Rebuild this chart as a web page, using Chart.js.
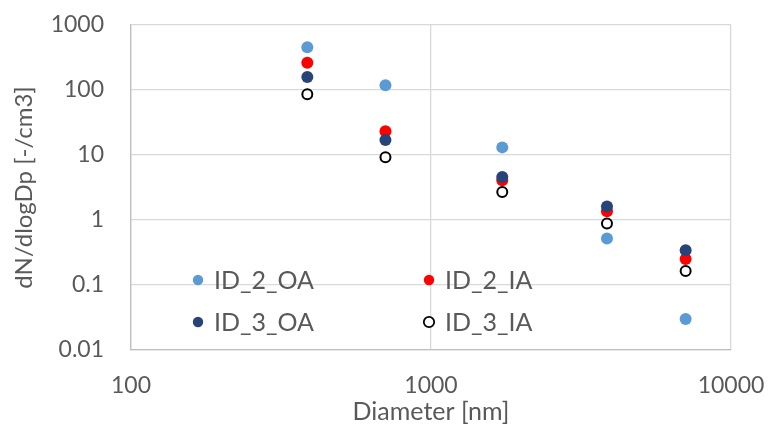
<!DOCTYPE html>
<html>
<head>
<meta charset="utf-8">
<script src="https://cdn.jsdelivr.net/npm/chart.js@4"></script>
<style>
  html, body { margin: 0; padding: 0; background: #fff; }
  #wrap { width: 768px; height: 428px; }
</style>
</head>
<body>
<div id="wrap"><canvas id="chart" width="768" height="428"></canvas></div>
<script>
// particle size bins [nm]
const diameters = [387, 705, 1728, 3860, 7060];

const id2OA = [454, 118, 13.1, 0.52, 0.030];
const id2IA = [263, 23.2, 4.1, 1.36, 0.251];
const id3OA = [158, 17.0, 4.6, 1.62, 0.342];
const id3IA = [86, 9.2, 2.7, 0.88, 0.164];

const xTicks = [100, 1000, 10000];
const yTicks = [0.01, 0.1, 1, 10, 100, 1000];

const GREY = "#595959";
const FONT = "Lato";

function pts(ys) {
  return diameters.map((d, i) => ({ x: d, y: ys[i] }));
}

// Excel-style legend sitting inside the plot area
const insideLegend = {
  id: "insideLegend",
  afterDraw(chart) {
    const ctx = chart.ctx;
    const slots = [
      { ds: 0, x: 198, y: 280 },
      { ds: 1, x: 429, y: 280 },
      { ds: 2, x: 198, y: 322 },
      { ds: 3, x: 429, y: 322 },
    ];
    ctx.save();
    ctx.font = `25px ${FONT}`;
    ctx.textBaseline = "middle";
    ctx.textAlign = "left";
    slots.forEach(s => {
      const d = chart.data.datasets[s.ds];
      ctx.beginPath();
      ctx.arc(s.x, s.y, 5.2, 0, Math.PI * 2);
      ctx.fillStyle = d.backgroundColor;
      ctx.fill();
      if (d.borderWidth > 0) {
        ctx.lineWidth = 1.8;
        ctx.strokeStyle = d.borderColor;
        ctx.stroke();
      }
      ctx.fillStyle = GREY;
      ctx.fillText(d.label, s.x + 16, s.y + 1);
    });
    ctx.restore();
  },
};

new Chart(document.getElementById("chart"), {
  type: "scatter",
  data: {
    datasets: [
      { label: "ID_2_OA", data: pts(id2OA), backgroundColor: "#5B9BD5", borderColor: "#5B9BD5", borderWidth: 0, pointRadius: 6, order: 4 },
      { label: "ID_2_IA", data: pts(id2IA), backgroundColor: "#FF0000", borderColor: "#FF0000", borderWidth: 0, pointRadius: 6, order: 3 },
      { label: "ID_3_OA", data: pts(id3OA), backgroundColor: "#264478", borderColor: "#264478", borderWidth: 0, pointRadius: 6, order: 2 },
      { label: "ID_3_IA", data: pts(id3IA), backgroundColor: "#FFFFFF", borderColor: "#000000", borderWidth: 2, pointRadius: 5, order: 1 },
    ],
  },
  options: {
    responsive: false,
    animation: false,
    layout: { autoPadding: false, padding: { left: 0, right: 37, top: 25, bottom: 0 } },
    plugins: { legend: { display: false }, tooltip: { enabled: false } },
    scales: {
      x: {
        type: "logarithmic",
        min: 100,
        max: 10000,
        afterBuildTicks: ax => { ax.ticks = xTicks.map(v => ({ value: v })); },
        afterFit: ax => {
          ax.height = 78;
          ax.paddingLeft = 0;
          ax.paddingRight = 0;
        },
        ticks: {
          color: GREY,
          font: { family: FONT, size: 23 },
          padding: 22,
          maxRotation: 0,
          callback: v => String(v),
        },
        grid: { color: "#D9D9D9", lineWidth: 1.3, drawTicks: false },
        border: { color: "#BFBFBF", width: 1.3 },
        title: {
          display: true,
          text: "Diameter [nm]",
          color: GREY,
          font: { family: FONT, size: 25 },
          padding: { top: 0, bottom: 1 },
        },
      },
      y: {
        type: "logarithmic",
        min: 0.01,
        max: 1000,
        afterBuildTicks: ax => { ax.ticks = yTicks.map(v => ({ value: v })); },
        afterFit: ax => {
          ax.width = 131;
          ax.paddingTop = 0;
          ax.paddingBottom = 0;
        },
        ticks: {
          color: GREY,
          font: { family: FONT, size: 23 },
          padding: 27,
          callback: v => String(v),
        },
        grid: { color: "#D9D9D9", lineWidth: 1.3, drawTicks: false },
        border: { color: "#BFBFBF", width: 1.3 },
        title: {
          display: true,
          text: "dN/dlogDp [-/cm3]",
          color: GREY,
          font: { family: FONT, size: 24 },
          padding: { top: 10, bottom: 0 },
        },
      },
    },
  },
  plugins: [insideLegend],
});
</script>
</body>
</html>
